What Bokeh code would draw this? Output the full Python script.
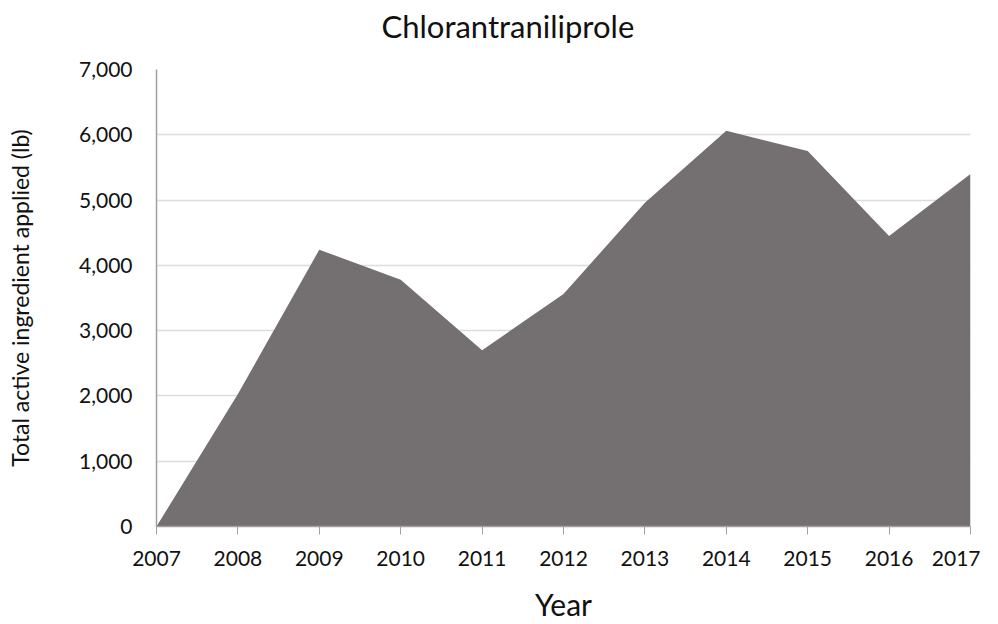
from bokeh.plotting import figure
from bokeh.models import Range1d, NumeralTickFormatter, FixedTicker, Title
from bokeh.embed import file_html
from bokeh.resources import INLINE

years = [2007, 2008, 2009, 2010, 2011, 2012, 2013, 2014, 2015, 2016, 2017]
pounds = [0, 2030, 4240, 3780, 2700, 3560, 4960, 6060, 5750, 4450, 5400]
y_ticks = [0, 1000, 2000, 3000, 4000, 5000, 6000, 7000]
title_text = "Chlorantraniliprole"

FONT = "Lato"

p = figure(width=980, height=624, output_backend="svg", toolbar_location=None,
           x_range=Range1d(2007, 2017), y_range=Range1d(0, 7000),
           min_border_left=156, min_border_right=10, min_border_top=69,
           min_border_bottom=98)
p.outline_line_color = None
p.background_fill_color = "white"

p.varea(x=years, y1=0, y2=pounds, fill_color="#746f70")

# spacer between title and frame (added first: sits nearest the frame)
spacer = Title(text=" ", text_font=FONT, text_font_size="10px", standoff=4,
               text_color="white")
p.add_layout(spacer, "above")

main_title = Title(text=title_text, text_font=FONT, text_font_size="31px",
                   text_font_style="normal", align="left", offset=225,
                   vertical_align="top", standoff=10, text_color="#111111")
p.add_layout(main_title, "above")

p.xaxis.ticker = FixedTicker(ticks=years)
p.yaxis.ticker = FixedTicker(ticks=y_ticks)
p.yaxis.formatter = NumeralTickFormatter(format="0,0")

for ax in (p.xaxis[0], p.yaxis[0]):
    ax.axis_line_color = "#a0a0a0"
    ax.axis_line_width = 1.5
    ax.major_label_text_font = FONT
    ax.major_label_text_font_size = "21px"
    ax.major_label_text_color = "#111111"
    ax.minor_tick_line_color = None
    ax.axis_label_text_font = FONT
    ax.axis_label_text_font_style = "normal"
    ax.axis_label_text_color = "#111111"

p.xaxis.major_tick_line_color = "#a0a0a0"
p.xaxis.major_tick_out = 8
p.xaxis.major_tick_in = 0
p.xaxis.major_label_standoff = 16
p.xaxis.axis_label = "Year"
p.xaxis.axis_label_text_font_size = "30px"
p.xaxis.axis_label_standoff = 17

p.yaxis.major_tick_line_color = None
p.yaxis.major_label_standoff = 18
p.yaxis.axis_label = "Total active ingredient applied (lb)"
p.yaxis.axis_label_text_font_size = "23px"
p.yaxis.axis_label_standoff = 42

p.xgrid.grid_line_color = None
p.ygrid.grid_line_color = "#dcdcdc"
p.ygrid.grid_line_width = 1.5

open("out.html", "w").write(file_html(p, INLINE))
